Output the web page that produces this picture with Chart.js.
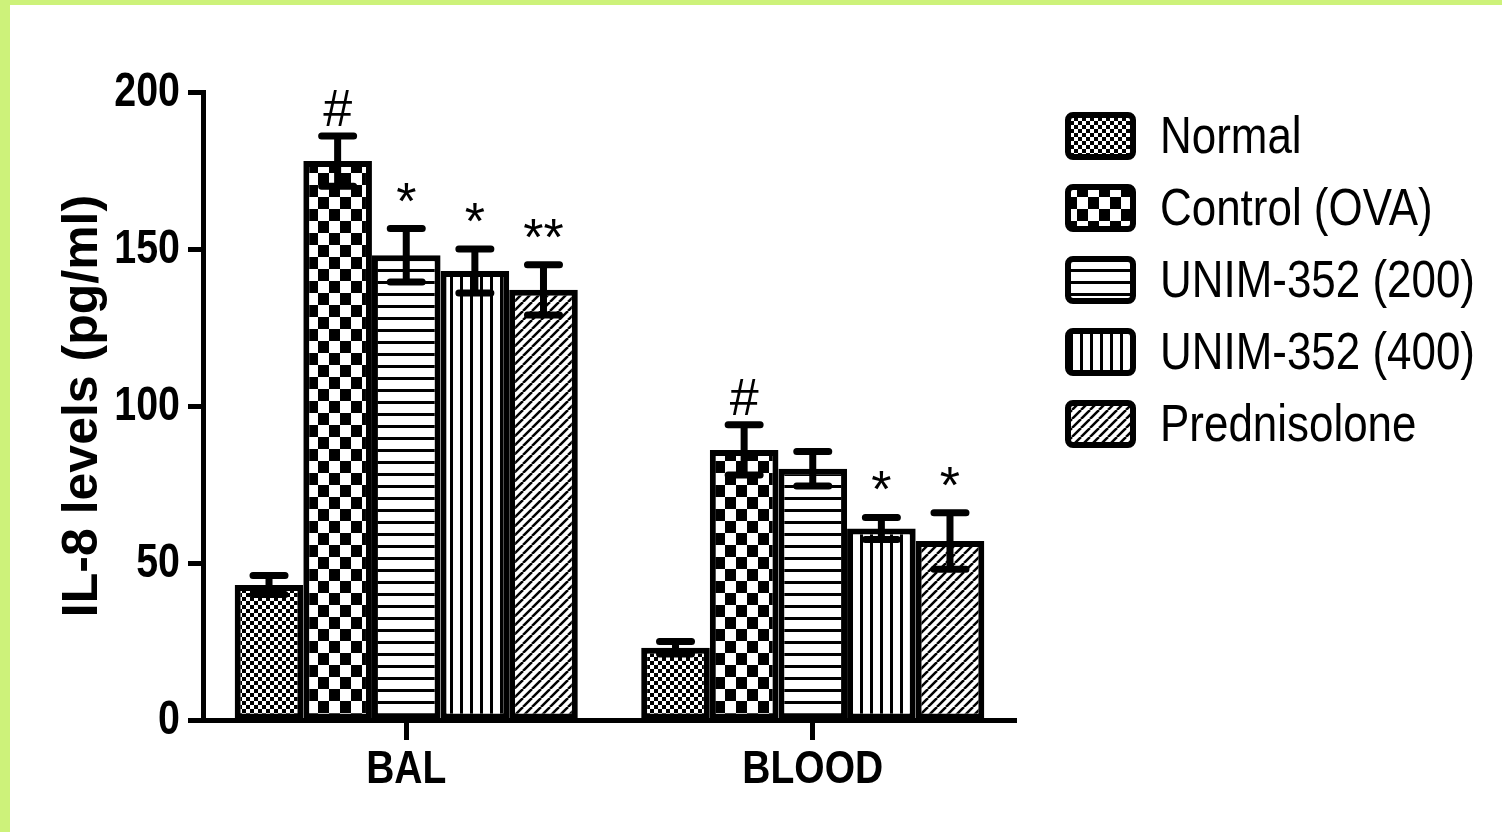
<!DOCTYPE html>
<html>
<head>
<meta charset="utf-8">
<script src="https://cdn.jsdelivr.net/npm/chart.js@4.4.0/dist/chart.umd.min.js"></script>
<style>
  html, body { margin: 0; padding: 0; background: #cdf27a; }
  #wrap { position: absolute; left: 10px; top: 5px; width: 1492px; height: 827px; background: #fff; }
</style>
</head>
<body>
<div id="wrap"><canvas id="chart" width="1492" height="827"></canvas></div>
<script>
const categories = ["BAL", "BLOOD"];
const groups = ["Normal", "Control (OVA)", "UNIM-352 (200)", "UNIM-352 (400)", "Prednisolone"];
// mean values per group (BAL, BLOOD)
const normalVals = [43, 23];
const controlVals = [178, 86];
const unim200Vals = [148, 80];
const unim400Vals = [143, 61];
const predVals = [137, 57];
// error (SEM) per group
const normalErr = [3, 2];
const controlErr = [8, 8];
const unim200Err = [8.5, 5.5];
const unim400Err = [7, 3.5];
const predErr = [8, 9];
// significance marks
const normalMarks = ["", ""];
const controlMarks = ["#", "#"];
const unim200Marks = ["*", ""];
const unim400Marks = ["*", "*"];
const predMarks = ["**", "*"];
const yTicks = [0, 50, 100, 150, 200];

const fam = "'Liberation Sans', Arial, sans-serif";
const canvas = document.getElementById("chart");
const ctx = canvas.getContext("2d");

let makePattern = (w, h, draw) => {
  const c = document.createElement("canvas");
  c.width = w;
  c.height = h;
  const g = c.getContext("2d");
  g.fillStyle = "#fff";
  g.fillRect(0, 0, w, h);
  g.fillStyle = "#000";
  g.strokeStyle = "#000";
  draw(g, w, h);
  return ctx.createPattern(c, "repeat");
};

const fineChecker = makePattern(8, 8, (g) => {
  g.fillRect(0, 0, 4, 4);
  g.fillRect(4, 4, 4, 4);
});
const bigChecker = makePattern(22, 24, (g) => {
  g.fillRect(0, 0, 11, 12);
  g.fillRect(11, 12, 11, 12);
});
const hLines = makePattern(12, 12, (g) => g.fillRect(0, 0, 12, 3));
const vLines = makePattern(10, 10, (g) => g.fillRect(0, 0, 3, 10));
const diag = makePattern(9, 9, (g, w, h) => {
  g.lineWidth = 2.5;
  for (let k = -1; k <= 1; k++) {
    g.beginPath();
    g.moveTo(k * w, h);
    g.lineTo(k * w + w, 0);
    g.stroke();
  }
});

const series = [
  { vals: normalVals, err: normalErr, marks: normalMarks, fill: fineChecker },
  { vals: controlVals, err: controlErr, marks: controlMarks, fill: bigChecker },
  { vals: unim200Vals, err: unim200Err, marks: unim200Marks, fill: hLines },
  { vals: unim400Vals, err: unim400Err, marks: unim400Marks, fill: vLines },
  { vals: predVals, err: predErr, marks: predMarks, fill: diag },
];

// text squeezed horizontally, like the original figure
let squashText = (c, text, x, y, font, align, baseline, sx) => {
  c.save();
  c.translate(x, y);
  c.scale(sx, 1);
  c.font = font;
  c.textAlign = align;
  c.textBaseline = baseline;
  c.fillStyle = "#000";
  c.fillText(text, 0, 0);
  c.restore();
};

const errorBars = {
  id: "errorBars",
  afterDatasetsDraw(chart) {
    const c = chart.ctx;
    const y = chart.scales.y;
    c.save();
    c.strokeStyle = "#000";
    c.fillStyle = "#000";
    c.lineCap = "round";
    series.forEach((s, i) => {
      chart.getDatasetMeta(i).data.forEach((bar, j) => {
        const top = y.getPixelForValue(s.vals[j] + s.err[j]);
        const bot = y.getPixelForValue(s.vals[j] - s.err[j]);
        c.lineWidth = 7;
        c.beginPath();
        c.moveTo(bar.x, top);
        c.lineTo(bar.x, bot);
        c.moveTo(bar.x - 16, top);
        c.lineTo(bar.x + 16, top);
        c.moveTo(bar.x - 16, bot);
        c.lineTo(bar.x + 16, bot);
        c.stroke();
        if (s.marks[j]) {
          c.font = "52px " + fam;
          c.textAlign = "center";
          c.textBaseline = "alphabetic";
          c.fillText(s.marks[j], bar.x, top - 10);
        }
      });
    });
    c.restore();
  },
};

const axisText = {
  id: "axisText",
  afterDraw(chart) {
    const c = chart.ctx;
    const { x, y } = chart.scales;
    yTicks.forEach((v) => {
      squashText(c, String(v), 170, y.getPixelForValue(v) + 1, "bold 48px " + fam, "right", "middle", 0.82);
    });
    categories.forEach((lab, i) => {
      squashText(c, lab, x.getPixelForValue(i), chart.chartArea.bottom + 63, "bold 47px " + fam, "center", "alphabetic", 0.83);
    });
    // legend
    groups.forEach((g, i) => {
      const top = 110 + i * 72;
      c.save();
      c.beginPath();
      c.roundRect(1058, top, 65, 42, 5);
      c.fillStyle = series[i].fill;
      c.fill();
      c.lineWidth = 6;
      c.strokeStyle = "#000";
      c.stroke();
      c.restore();
      squashText(c, g, 1150, top + 38, "52px " + fam, "left", "alphabetic", 0.845);
    });
  },
};

let myChart = new Chart(canvas, {
  type: "bar",
  data: {
    labels: categories,
    datasets: series.map((s, i) => ({
      label: groups[i],
      data: s.vals,
      backgroundColor: s.fill,
      borderColor: "#000",
      borderWidth: 6,
      borderSkipped: false,
      categoryPercentage: 0.844,
      barPercentage: 1,
    })),
  },
  options: {
    responsive: false,
    animation: false,
    layout: { padding: { left: 43, top: 87, right: 486, bottom: 0 } },
    plugins: {
      tooltip: { enabled: false },
      legend: { display: false },
    },
    scales: {
      x: {
        z: 1,
        grid: { drawOnChartArea: false, offset: false, tickLength: 20, tickWidth: 5, tickColor: "#000" },
        border: { color: "#000", width: 5 },
        ticks: { display: false },
        afterFit: (s) => { s.height = 112; },
      },
      y: {
        min: 0,
        max: 200,
        afterBuildTicks: (s) => { s.ticks = yTicks.map((v) => ({ value: v })); },
        grid: { drawOnChartArea: false, tickLength: 15, tickWidth: 5, tickColor: "#000" },
        border: { color: "#000", width: 5 },
        ticks: { display: false },
        title: {
          display: true,
          text: "IL-8 levels (pg/ml)",
          color: "#000",
          padding: 0,
          font: { family: fam, size: 50, weight: "bold" },
        },
        afterFit: (s) => { s.width = 150; },
      },
    },
  },
  plugins: [errorBars, axisText],
});
</script>
</body>
</html>
